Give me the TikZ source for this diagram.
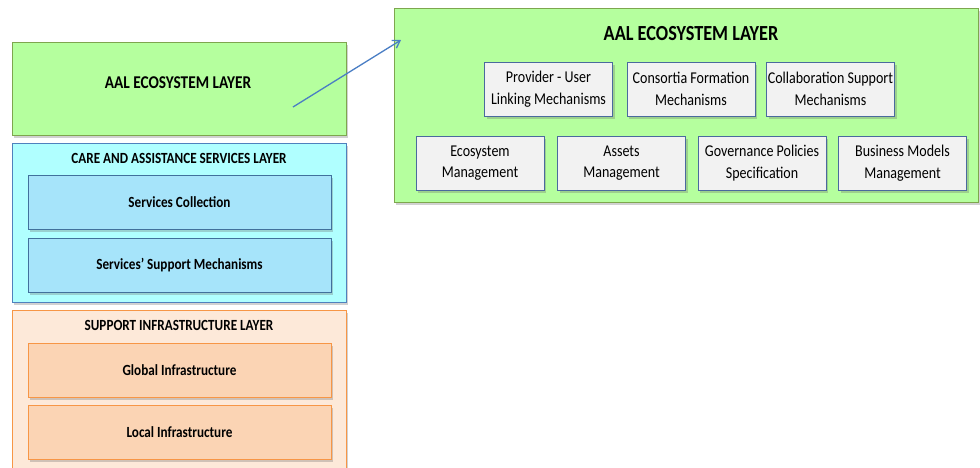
\documentclass[tikz,border=0pt]{standalone}
\usepackage{fontspec}
\setmainfont{Carlito}
\newfontfamily\cond[FakeStretch=0.85]{Carlito}
\usetikzlibrary{shadows,arrows.meta}
\definecolor{grfill}{HTML}{B5FF9E}
\definecolor{grline}{HTML}{7EA64E}
\definecolor{cyfill}{HTML}{B0FFFF}
\definecolor{cyline}{HTML}{4F81BD}
\definecolor{cyin}{HTML}{A6E4FA}
\definecolor{cyinline}{HTML}{41719C}
\definecolor{orfill}{HTML}{FDE9D9}
\definecolor{orline}{HTML}{F79646}
\definecolor{orin}{HTML}{FBD4B4}
\definecolor{gyfill}{HTML}{F2F2F2}
\definecolor{gyline}{HTML}{4A6A9E}
\definecolor{arrowc}{HTML}{4A7EC4}
\tikzset{
  sh/.style={drop shadow={shadow xshift=2pt,shadow yshift=-2.5pt,opacity=0.3,fill=black!60}},
  layer/.style={rectangle, inner sep=0pt, sh, line width=0.8pt},
  greenlayer/.style={layer, fill=grfill, draw=grline},
  cyanlayer/.style={layer, fill=cyfill, draw=cyline},
  orlayer/.style={layer, fill=orfill, draw=orline},
  cybox/.style={layer, fill=cyin, draw=cyinline, minimum width=303pt, minimum height=54pt, font=\cond\bfseries\fontsize{15.5}{18}\selectfont},
  orbox/.style={layer, fill=orin, draw=orline, minimum width=303pt, minimum height=54pt, font=\cond\bfseries\fontsize{15.5}{18}\selectfont},
  gybox/.style={rectangle, fill=gyfill, draw=gyline, line width=0.8pt, minimum width=128pt, minimum height=54pt, inner sep=0pt, align=center, font=\cond\fontsize{16.5}{21.5}\selectfont, sh},
  ltitle/.style={font=\cond\bfseries\fontsize{15.5}{18}\selectfont, inner sep=0pt},
}
\begin{document}
\begin{tikzpicture}[x=1pt,y=-1pt]
\useasboundingbox (0,0) rectangle (980,467);
\clip (0,0) rectangle (980,467);
% left column
\node[greenlayer, minimum width=334pt, minimum height=93pt] (aalL) at (179,88.5) {};
\node[font=\cond\bfseries\fontsize{18}{20}\selectfont, inner sep=0pt] (aalLt) at (178,83) {AAL ECOSYSTEM LAYER};
\node[cyanlayer, minimum width=334pt, minimum height=159pt] (care) at (179,222.5) {};
\node[ltitle] (caret) at (179,158) {CARE AND ASSISTANCE SERVICES LAYER};
\node[cybox] (sc) at (179.5,202) {Services Collection};
\node[cybox] (ssm) at (179.5,265) {Services’ Support Mechanisms};
\node[orlayer, minimum width=334pt, minimum height=170pt] (sup) at (179,395) {};
\node[ltitle] (supt) at (179,325) {SUPPORT INFRASTRUCTURE LAYER};
\node[orbox] (gi) at (179.5,370) {Global Infrastructure};
\node[orbox] (li) at (179.5,432.5) {Local Infrastructure};
% right detail
\node[greenlayer, minimum width=584pt, minimum height=194pt] (aalR) at (686,105) {};
\node[font=\cond\bfseries\fontsize{21.5}{24}\selectfont, inner sep=0pt] (aalRt) at (691,34) {AAL ECOSYSTEM LAYER};
\node[gybox] (pu) at (548.5,89) {Provider - User\\Linking Mechanisms};
\node[gybox] (cf) at (691,89) {Consortia Formation\\Mechanisms};
\node[gybox] (cs) at (830.5,89) {Collaboration Support\\Mechanisms};
\node[gybox] (em) at (480,163) {Ecosystem\\Management};
\node[gybox] (am) at (621.5,163) {Assets\\Management};
\node[gybox] (gp) at (762,163) {Governance Policies\\Specification};
\node[gybox] (bm) at (902.5,163) {Business Models\\Management};
% arrow
\coordinate (a0) at (293,107);
\coordinate (a1) at (401,40);
\draw[arrowc, line width=1.3pt, -{Straight Barb[length=7pt,width=9pt]}] (a0) -- (a1);
\end{tikzpicture}
\end{document}
